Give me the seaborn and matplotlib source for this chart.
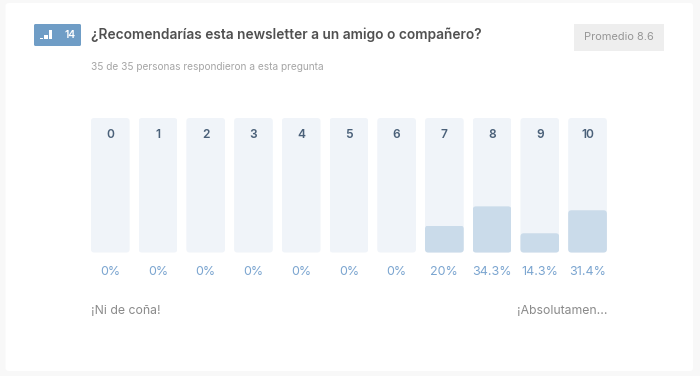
import matplotlib
matplotlib.use("Agg")
import matplotlib.pyplot as plt
import pandas as pd
import seaborn as sns
from matplotlib.patches import FancyBboxPatch, Rectangle

scores = ["0", "1", "2", "3", "4", "5", "6", "7", "8", "9", "10"]
percents = [0, 0, 0, 0, 0, 0, 0, 20, 34.3, 14.3, 31.4]
pct_labels = ["0%", "0%", "0%", "0%", "0%", "0%", "0%", "20%", "34.3%", "14.3%", "31.4%"]
full_scale = [100] * len(scores)

title = "¿Recomendarías esta newsletter a un amigo o compañero?"
subtitle = "35 de 35 personas respondieron a esta pregunta"
average = "Promedio 8.6"
low_label = "¡Ni de coña!"
high_label = "¡Absolutamen..."
question_no = "14"

W, H = 700, 376
TEXT_FONT = ["Inter", "Roboto", "DejaVu Sans"]

sns.set_theme(style="white")
plt.rcParams["font.family"] = TEXT_FONT


def round_box(ax, x, y, w, h, color, r=2, zorder=1):
    ax.add_patch(FancyBboxPatch((x, y), w, h, boxstyle="round,pad=0,rounding_size=%s" % r,
                                facecolor=color, edgecolor="none", zorder=zorder))


fig = plt.figure(figsize=(W / 100, H / 100), dpi=100, facecolor="#f8f8f8")

# page layer in pixel coordinates, y going down
page = fig.add_axes([0, 0, 1, 1], zorder=0)
page.set_xlim(0, W)
page.set_ylim(H, 0)
page.axis("off")
round_box(page, 5.5, 3, 687.5, 368, "white", r=3)

# question badge
round_box(page, 34, 24, 47, 22, "#6f9dc6", r=1.5, zorder=2)
for bx, bw, bh in [(39.5, 3.5, 1.5), (44, 3.5, 4.5), (48.5, 3.5, 9)]:
    page.add_patch(Rectangle((bx, 39 - bh), bw, bh, facecolor="white", edgecolor="none", zorder=3))
page.text(70, 35, question_no, color="white", fontsize=7.4, fontweight="semibold",
          ha="center", va="center", zorder=3)

page.text(91, 34.5, title, color="#505050", fontsize=9.9, fontweight="semibold", va="center")
page.text(91, 66.5, subtitle, color="#a6a6a6", fontsize=7.3, va="center")

page.add_patch(Rectangle((574, 24), 90, 27, facecolor="#eeeeee", edgecolor="none"))
page.text(619, 36.5, average, color="#969696", fontsize=7.9, ha="center", va="center")

page.text(91, 311, low_label, color="#8a8a8a", fontsize=8.8, va="center")
page.text(607, 311, high_label, color="#8a8a8a", fontsize=8.8, ha="right", va="center")

# bars
left, right = 86.4, 611.4
top, bottom = 118, 252.5
ax = fig.add_axes([left / W, 1 - bottom / H, (right - left) / W, (bottom - top) / H], zorder=1)
ax.patch.set_alpha(0)

frame = pd.DataFrame({"score": scores, "full": full_scale, "percent": percents})
sns.barplot(data=frame, x="score", y="full", color="#f0f4f9", saturation=1, width=0.811,
            linewidth=0, ax=ax)
sns.barplot(data=frame, x="score", y="percent", color="#cadbea", saturation=1, width=0.811,
            linewidth=0, ax=ax)

ax.set_xlim(-0.5, len(scores) - 0.5)
ax.set_ylim(0, 100)
ax.set_xlabel("")
ax.set_ylabel("")
ax.set_yticks([])
ax.set_xticks(range(len(scores)))
ax.set_xticklabels(pct_labels, color="#7ba5d0", fontsize=9)
ax.tick_params(axis="x", length=0, pad=10)
sns.despine(ax=ax, left=True, bottom=True)

# rounded corners on the bars
for bar in ax.patches:
    if bar.get_height() <= 0:
        continue
    clip = FancyBboxPatch((bar.get_x(), bar.get_y()), bar.get_width(), bar.get_height(),
                          boxstyle="round,pad=0,rounding_size=0.07",
                          mutation_aspect=100 / 134.5 * 47.7,
                          transform=ax.transData)
    bar.set_clip_path(clip)

for i, score in enumerate(scores):
    ax.text(i, 87.5, score, color="#4a6079", fontsize=8.6, fontweight="semibold",
            ha="center", va="center")

fig.savefig("out.png", dpi=100, facecolor=fig.get_facecolor())
